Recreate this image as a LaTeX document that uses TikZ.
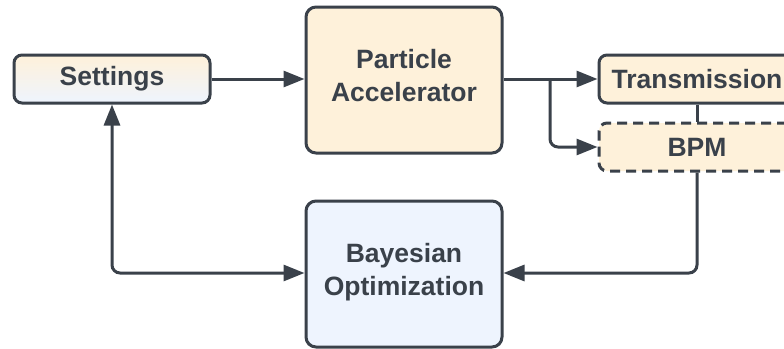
\documentclass[tikz,border=0pt]{standalone}
\usepackage{fontspec}
\setmainfont{Liberation Sans}
\usetikzlibrary{arrows.meta}
\definecolor{ink}{HTML}{3A414A}
\definecolor{sand}{HTML}{FEF1DA}
\definecolor{sky}{HTML}{EEF4FE}
\tikzset{
  words/.style={text=ink, font=\bfseries\fontsize{26.5}{33}\selectfont,
    align=center, inner sep=0pt},
  box/.style={words, draw=ink, line width=3pt, rounded corners=10pt, fill=sand,
    minimum width=196pt},
  small/.style={minimum height=48pt, rounded corners=8pt},
  big/.style={minimum height=146pt},
  link/.style={draw=ink, line width=3pt, rounded corners=8pt},
  tip/.tip={Triangle[length=21pt,width=16pt]},
  arr/.style={link, -tip},
}
\begin{document}
\begin{tikzpicture}[x=1pt,y=-1pt]
\useasboundingbox (0,0) rectangle (784,348);
\clip (0,0) rectangle (784,348);
\fill[white] (0,0) rectangle (784,348);

\node[box, small, top color=sand, bottom color=sky] (set) at (112,79) {Settings};
\node[box, big] (acc) at (404,80) {};
\node[words] (acctext) at ([yshift=4pt]acc.center) {Particle\\Accelerator};
\node[box, small] (tra) at (697,79) {Transmission};
\node[box, small, dash pattern=on 10pt off 6pt] (bpm) at (697,147) {BPM};
\node[box, big, fill=sky] (bo) at (404,274) {};
\node[words] (botext) at ([yshift=2pt]bo.center) {Bayesian\\Optimization};

\coordinate (fork) at (550,79);
\coordinate (low) at (697,273);
\coordinate (left) at (112,273);

\draw[arr] (set.east) -- (acc.west |- set.east);
\draw[arr] (acc.east |- tra.west) -- (tra.west);
\draw[arr] (fork) |- (bpm.west);
\draw[link] (tra.south) -- (bpm.north);
\draw[arr] (bpm.south) -- (low) -- (bo.east |- low);
\draw[link, tip-tip] (set.south) -- (left) -- (bo.west |- left);
\end{tikzpicture}
\end{document}
